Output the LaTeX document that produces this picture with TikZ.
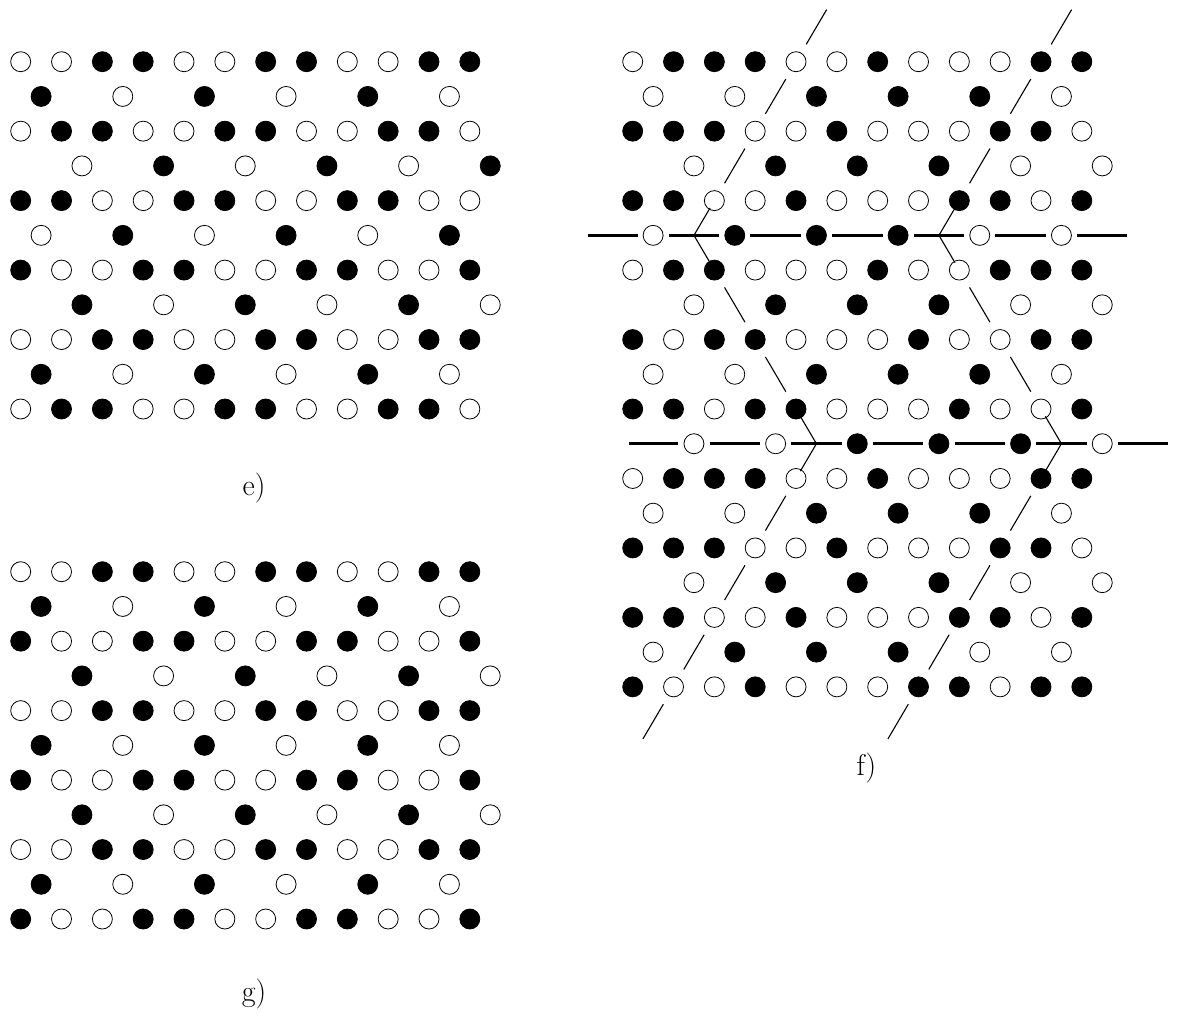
\documentclass[tikz,border=0pt]{standalone}
\usepackage{tikz}
\usetikzlibrary{calc}

% one panel of spins: #1 name, #2 x origin, #3 y origin, #4 rows
\newcommand{\spinrows}[4]{%
  \foreach \row [count=\r] in {#4} {
    \ifodd\r
      \foreach \s [count=\c from 0] in \row
        \node[spin\s] (#1-\r-\c) at ({#2+\c*\dx}, {#3+(\r-1)*\dy}) {};
    \else
      \pgfmathsetmacro\rowoff{ifthenelse(mod(\r,4)==2,0.5,1.5)}
      \foreach \s [count=\c from 0] in \row
        \node[spin\s] (#1-\r-\c) at ({#2+(\rowoff+2*\c)*\dx}, {#3+(\r-1)*\dy}) {};
    \fi
  }
}

\begin{document}
\begin{tikzpicture}[
  x=1pt, y=-1pt,
  site/.style={circle, draw, line width=0.8pt, inner sep=0pt, outer sep=0pt, minimum size=20pt},
  spin0/.style={site, fill=white},
  spin1/.style={site, fill=black},
  wall/.style={line width=2.6pt, shorten <=5.6pt, shorten >=5.6pt},
  kink/.style={line width=1.1pt},
  panel/.style={font=\fontsize{30}{36}\selectfont, anchor=base, inner sep=0pt}
]
\useasboundingbox (0,0) rectangle (1177,1021);

% ---------------------------------------------------
% Coordinate Grid
% ---------------------------------------------------
\def\dx{40.83}
\def\dy{34.73}
\def\xE{20.7}
\def\yE{61.7}
\def\xG{20.7}
\def\yG{571.7}
\def\xF{632.7}
\def\yF{61.7}

% ---------------------------------------------------
% 1. Panel e)
% ---------------------------------------------------
\spinrows{e}{\xE}{\yE}{
  {0,0,1,1,0,0,1,1,0,0,1,1},
  {1,0,1,0,1,0},
  {0,1,1,0,0,1,1,0,0,1,1,0},
  {0,1,0,1,0,1},
  {1,1,0,0,1,1,0,0,1,1,0,0},
  {0,1,0,1,0,1},
  {1,0,0,1,1,0,0,1,1,0,0,1},
  {1,0,1,0,1,0},
  {0,0,1,1,0,0,1,1,0,0,1,1},
  {1,0,1,0,1,0},
  {0,1,1,0,0,1,1,0,0,1,1,0}}
\node[panel] (lab-e) at (254, 495) {e)};

% ---------------------------------------------------
% 2. Panel g)
% ---------------------------------------------------
\spinrows{g}{\xG}{\yG}{
  {0,0,1,1,0,0,1,1,0,0,1,1},
  {1,0,1,0,1,0},
  {1,0,0,1,1,0,0,1,1,0,0,1},
  {1,0,1,0,1,0},
  {0,0,1,1,0,0,1,1,0,0,1,1},
  {1,0,1,0,1,0},
  {1,0,0,1,1,0,0,1,1,0,0,1},
  {1,0,1,0,1,0},
  {0,0,1,1,0,0,1,1,0,0,1,1},
  {1,0,1,0,1,0},
  {1,0,0,1,1,0,0,1,1,0,0,1}}
\node[panel] (lab-g) at (254, 1001) {g)};

% ---------------------------------------------------
% 3. Panel f)
% ---------------------------------------------------
\spinrows{f}{\xF}{\yF}{
  {0,1,1,1,0,0,1,0,0,0,1,1},
  {0,0,1,1,1,0},
  {1,1,1,0,0,1,0,0,0,1,1,0},
  {0,1,1,1,0,0},
  {1,1,0,0,1,0,0,0,1,1,0,1},
  {0,1,1,1,0,0},
  {0,1,1,0,0,0,1,0,0,1,1,1},
  {0,1,1,1,0,0},
  {1,0,1,1,0,0,0,1,0,0,1,1},
  {0,0,1,1,1,0},
  {1,1,0,1,1,0,0,0,1,0,0,1},
  {0,0,1,1,1,0},
  {0,1,1,1,0,0,1,0,0,0,1,1},
  {0,0,1,1,1,0},
  {1,1,1,0,0,1,0,0,0,1,1,0},
  {0,1,1,1,0,0},
  {1,1,0,0,1,0,0,0,1,1,0,1},
  {0,1,1,1,0,0},
  {1,0,0,1,0,0,0,1,1,0,1,1}}
\node[panel] (lab-f) at (866.5, 775) {f)};

% horizontal walls (rows 6 and 12)
\coordinate (f-6-L) at ({\xF+(0.5-1.6)*\dx}, {\yF+5*\dy});
\coordinate (f-6-R) at ({\xF+(10.5+1.6)*\dx}, {\yF+5*\dy});
\coordinate (f-12-L) at ({\xF+(1.5-1.6)*\dx}, {\yF+11*\dy});
\coordinate (f-12-R) at ({\xF+(11.5+1.6)*\dx}, {\yF+11*\dy});
\foreach \w in {6,12} {
  \draw[wall, shorten <=0pt] (f-\w-L) -- (f-\w-0);
  \foreach \c [evaluate=\c as \n using int(\c+1)] in {0,...,4}
    \draw[wall] (f-\w-\c) -- (f-\w-\n);
  \draw[wall, shorten >=0pt] (f-\w-5) -- (f-\w-R);
}

% kinks on the walls
\foreach \m in {0,6} {
  \pgfmathtruncatemacro\ka{2+\m}
  \pgfmathtruncatemacro\kb{4+\m}
  \coordinate (kink-6-\m) at ({\xF+(1.5+\m)*\dx}, {\yF+5*\dy});
  \coordinate (kink-12-\m) at ({\xF+(4.5+\m)*\dx}, {\yF+11*\dy});
  \draw[kink, shorten >=8.5pt] (kink-6-\m) -- (f-5-\ka.center);
  \draw[kink, shorten >=8.5pt] (kink-6-\m) -- (f-7-\ka.center);
  \draw[kink, shorten >=8.5pt] (kink-12-\m) -- (f-11-\kb.center);
  \draw[kink, shorten >=8.5pt] (kink-12-\m) -- (f-13-\kb.center);
}

% slanted pieces of the walls
\foreach \m in {0,6}
  \foreach \r/\c/\s in {0/4.5/1, 2/3.5/1, 4/2.5/1, 8/2.5/-1, 10/3.5/-1,
                        14/3.5/1, 16/2.5/1, 18/1.5/1, 20/0.5/1}
    \draw[kink] ({\xF+(\c+\m+0.25*\s)*\dx}, {\yF+(\r-1.5)*\dy})
             -- ({\xF+(\c+\m-0.25*\s)*\dx}, {\yF+(\r-0.5)*\dy});

\end{tikzpicture}
\end{document}
